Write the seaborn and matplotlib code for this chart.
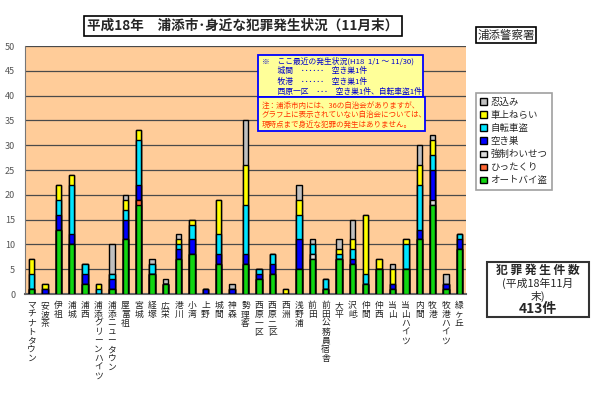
import numpy as np
import pandas as pd
import seaborn as sns
import matplotlib.pyplot as plt
from matplotlib.patches import Rectangle, Patch

# areas (x axis)
areas = ["マチナトタウン", "安波茶", "伊祖", "浦城", "浦西", "浦添グリーンハイツ",
         "浦添ニュータウン", "屋富祖", "宮城", "経塚", "広栄", "港川", "小湾", "上野",
         "城間", "神森", "勢理客", "西原一区", "西原二区", "西洲", "浅野浦", "前田",
         "前田公務員宿舎", "大平", "沢岻", "仲間", "仲西", "当山", "当山ハイツ",
         "内間", "牧港", "牧港ハイツ", "緑ヶ丘"]

# counts per crime type (stack order bottom -> top)
bike_theft  = [1, 0, 13, 10, 2, 0, 1, 11, 18, 4, 2, 7, 8, 0, 6, 0, 6, 3, 4, 0, 5, 7, 1, 7, 6, 2, 5, 1, 5, 11, 18, 1, 9]   # オートバイ盗
snatching   = [0, 0, 0, 0, 0, 0, 0, 0, 1, 0, 0, 0, 0, 0, 0, 0, 0, 0, 0, 0, 0, 0, 0, 0, 0, 0, 0, 0, 0, 0, 0, 0, 0]    # ひったくり
indecency   = [0, 0, 0, 0, 0, 0, 0, 0, 0, 0, 0, 0, 0, 0, 0, 0, 0, 0, 0, 0, 0, 1, 0, 0, 0, 0, 0, 0, 0, 0, 1, 0, 0]    # 強制わいせつ
burglary    = [0, 1, 3, 2, 2, 0, 2, 4, 3, 0, 0, 2, 3, 1, 2, 1, 2, 1, 2, 0, 6, 0, 0, 0, 1, 0, 0, 1, 0, 2, 6, 1, 2]    # 空き巣
bicycle     = [3, 0, 3, 10, 2, 1, 1, 2, 9, 2, 0, 1, 3, 0, 4, 0, 10, 1, 2, 0, 5, 2, 2, 1, 2, 2, 0, 0, 5, 9, 3, 0, 1]  # 自転車盗
car_break   = [3, 1, 3, 2, 0, 1, 0, 2, 2, 0, 0, 1, 1, 0, 7, 0, 8, 0, 0, 1, 3, 0, 0, 1, 2, 12, 2, 3, 1, 4, 3, 0, 0]  # 車上ねらい
intrusion   = [0, 0, 0, 0, 0, 0, 6, 1, 0, 1, 1, 1, 0, 0, 0, 1, 9, 0, 0, 0, 3, 1, 0, 2, 4, 0, 0, 1, 0, 4, 1, 2, 0]    # 忍込み

series_names = ["オートバイ盗", "ひったくり", "強制わいせつ", "空き巣", "自転車盗", "車上ねらい", "忍込み"]
series_vals = [bike_theft, snatching, indecency, burglary, bicycle, car_break, intrusion]
series_cols = ["#11D611", "#FF6633", "#DDDDDD", "#0000FF", "#00E5FF", "#FFFF00", "#C0C0C0"]

df = pd.DataFrame(dict(zip(series_names, series_vals)), index=areas)
cum = df.cumsum(axis=1)
cum["地区"] = areas

sns.set_style("white")
plt.rcParams['font.family'] = ['Noto Sans CJK JP', 'DejaVu Sans']

W, H = 600, 418
fig = plt.figure(figsize=(6, 4.18), dpi=100)
ax = fig.add_axes([25 / W, 1 - 294 / H, 441 / W, 248 / H])
ax.set_facecolor("#FFCC99")


def fx(px):
    return px / W


def fy(py):
    return 1 - py / H


# stacked bars: draw cumulative totals from top of stack down
for name, col in reversed(list(zip(series_names, series_cols))):
    sns.barplot(data=cum, x="地区", y=name, order=areas, color=col, width=0.4,
                edgecolor="black", linewidth=1.0, saturation=1, ax=ax, zorder=3)

ax.set_ylim(0, 50)
ax.set_xlim(-0.5, len(areas) - 0.5)
ax.set_yticks(range(0, 51, 5))
ax.yaxis.grid(True, color="#4a4a4a", linewidth=0.9, zorder=0)
ax.set_axisbelow(True)
ax.set_xlabel("")
ax.set_ylabel("")
ax.tick_params(axis="y", labelsize=6.5, labelcolor="#555555", length=0, pad=7)
ax.tick_params(axis="x", length=2, color="#666666", pad=3)
ax.set_xticks(range(len(areas)))
ax.set_xticklabels(["\n".join(a) for a in areas], fontsize=6.3, va="top",
                   linespacing=0.98, color="#222222")
for s in ["top", "right"]:
    ax.spines[s].set_visible(False)
ax.spines["left"].set_color("#777777")
ax.spines["bottom"].set_color("#666666")
ax.spines["bottom"].set_linewidth(1.5)

# legend
handles = [Patch(facecolor=c, edgecolor="black", linewidth=1.0, label=n)
           for n, c in zip(series_names, series_cols)][::-1]
leg = fig.legend(handles=handles, loc="upper left", bbox_to_anchor=(fx(476), fy(93)),
                 fontsize=6.8, frameon=True, fancybox=False, handlelength=0.7,
                 handleheight=0.7, handletextpad=0.4, labelspacing=0.42,
                 borderpad=0.45, borderaxespad=0)
leg.get_frame().set_edgecolor("#888888")
leg.get_frame().set_linewidth(1.2)

# title boxes
fig.text(fx(243), fy(26), "平成18年　浦添市･身近な犯罪発生状況（11月末）", ha="center",
         va="center", fontsize=9.8, fontweight="bold",
         bbox=dict(boxstyle="square,pad=0.22", facecolor="white", edgecolor="black", linewidth=1.2))
fig.text(fx(506), fy(35), "浦添警察署", ha="center", va="center", fontsize=8.3,
         bbox=dict(boxstyle="square,pad=0.15", facecolor="white", edgecolor="black", linewidth=1.2))

# note boxes
fig.add_artist(Rectangle((fx(258), fy(97)), fx(165), 42 / H, transform=fig.transFigure,
                         facecolor="#FFFF99", edgecolor="#0000FF", linewidth=1.3, zorder=5))
fig.add_artist(Rectangle((fx(258), fy(131)), fx(167), 34 / H, transform=fig.transFigure,
                         facecolor="#FFFF99", edgecolor="#0000FF", linewidth=1.3, zorder=5))
note1 = ["※　ここ最近の発生状況(H18  1/1 ～ 11/30)",
         "　　城間　･･････　空き巣1件",
         "　　牧港　･･････　空き巣1件",
         "　　西原一区　･･･　空き巣1件、自転車盗1件"]
for i, line in enumerate(note1):
    fig.text(fx(262), fy(61 + i * 10.3), line, fontsize=5.6, color="#0000CC",
             va="center", zorder=6)
note2 = ["注：浦添市内には、36の自治会がありますが、",
         "グラフ上に表示されていない自治会については、",
         "現時点まで身近な犯罪の発生はありません。"]
for i, line in enumerate(note2):
    fig.text(fx(262), fy(106 + i * 9.2), line, fontsize=5.45, color="#FF3300",
             va="center", zorder=6)

# total box
fig.add_artist(Rectangle((fx(487), fy(317)), fx(102), 55 / H, transform=fig.transFigure,
                         facecolor="white", edgecolor="#333333", linewidth=1.5))
fig.text(fx(538), fy(270), "犯 罪 発 生 件 数", ha="center", va="center", fontsize=8.5,
         fontweight="bold")
fig.text(fx(538), fy(283), "(平成18年11月", ha="center", va="center", fontsize=7.8)
fig.text(fx(538), fy(296), "末)", ha="center", va="center", fontsize=7.8)
fig.text(fx(538), fy(309), "413件", ha="center", va="center", fontsize=10,
         fontweight="bold")

fig.savefig("out.png", dpi=100)
